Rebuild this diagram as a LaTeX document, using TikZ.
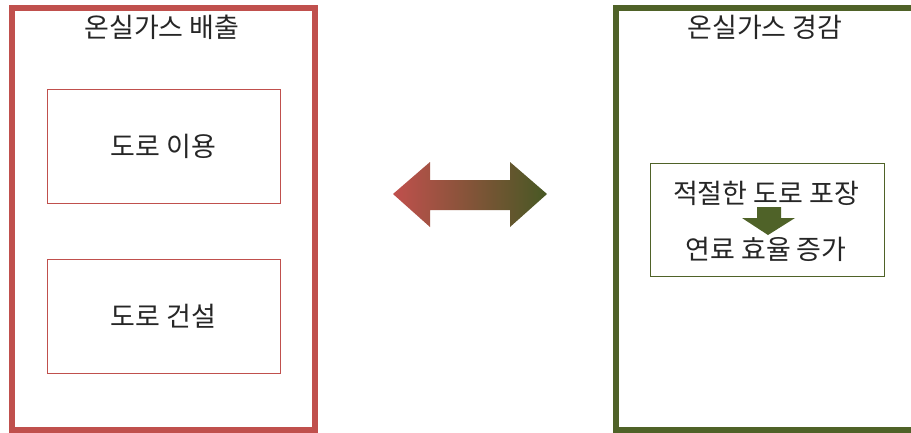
\documentclass[tikz,border=0pt]{standalone}
\usepackage{fontspec}
\setmainfont{Noto Sans CJK KR}
\definecolor{rd}{HTML}{C0504D}
\definecolor{gn}{HTML}{4F6228}
\begin{document}
\begin{tikzpicture}[x=1pt,y=-1pt,
  outerR/.style={draw=rd,line width=6pt},
  outerG/.style={draw=gn,line width=6pt},
  innerR/.style={draw=rd,line width=1pt,minimum width=233pt,minimum height=114pt,inner sep=0pt},
  innerG/.style={draw=gn,line width=1pt,minimum width=234pt,minimum height=113pt,inner sep=0pt},
  lbl/.style={font=\fontsize{27}{31}\selectfont,text=black!85,inner sep=0pt}]
\useasboundingbox (0,0) rectangle (911,432);
\clip (0,0) rectangle (911,432);
\fill[white] (0,0) rectangle (911,432);
% left panel
\draw[outerR] (12,8) rectangle (315,430);
\node[lbl] (t1) at (162,27) {온실가스 배출};
\node[innerR] (b1) at (163.5,146) {};
\node[lbl] (l1) at (b1.center) {도로 이용};
\node[innerR] (b2) at (163.5,316.5) {};
\node[lbl] (l2) at (b2.center) {도로 건설};
% double arrow
\shade[left color=rd,right color=gn!90!black]
  (393,194) -- (430,162) -- (430,180) -- (510,180) -- (510,162) -- (547,194)
  -- (510,227) -- (510,210) -- (430,210) -- (430,227) -- cycle;
% right panel (its right side lies beyond the picture)
\draw[outerG,line join=miter] (940,8) -- (616,8) -- (616,430) -- (940,430);
\node[lbl] (t2) at (765,27) {온실가스 경감};
\node[innerG] (b3) at (767,219.5) {};
\node[lbl] (r1) at (766,193) {적절한 도로 포장};
\node[lbl] (r2) at (766,249) {연료 효율 증가};
\fill[gn] (757,207) -- (781,207) -- (781,218) -- (795,218) -- (768,235) -- (742,218) -- (757,218) -- cycle;
\end{tikzpicture}
\end{document}
